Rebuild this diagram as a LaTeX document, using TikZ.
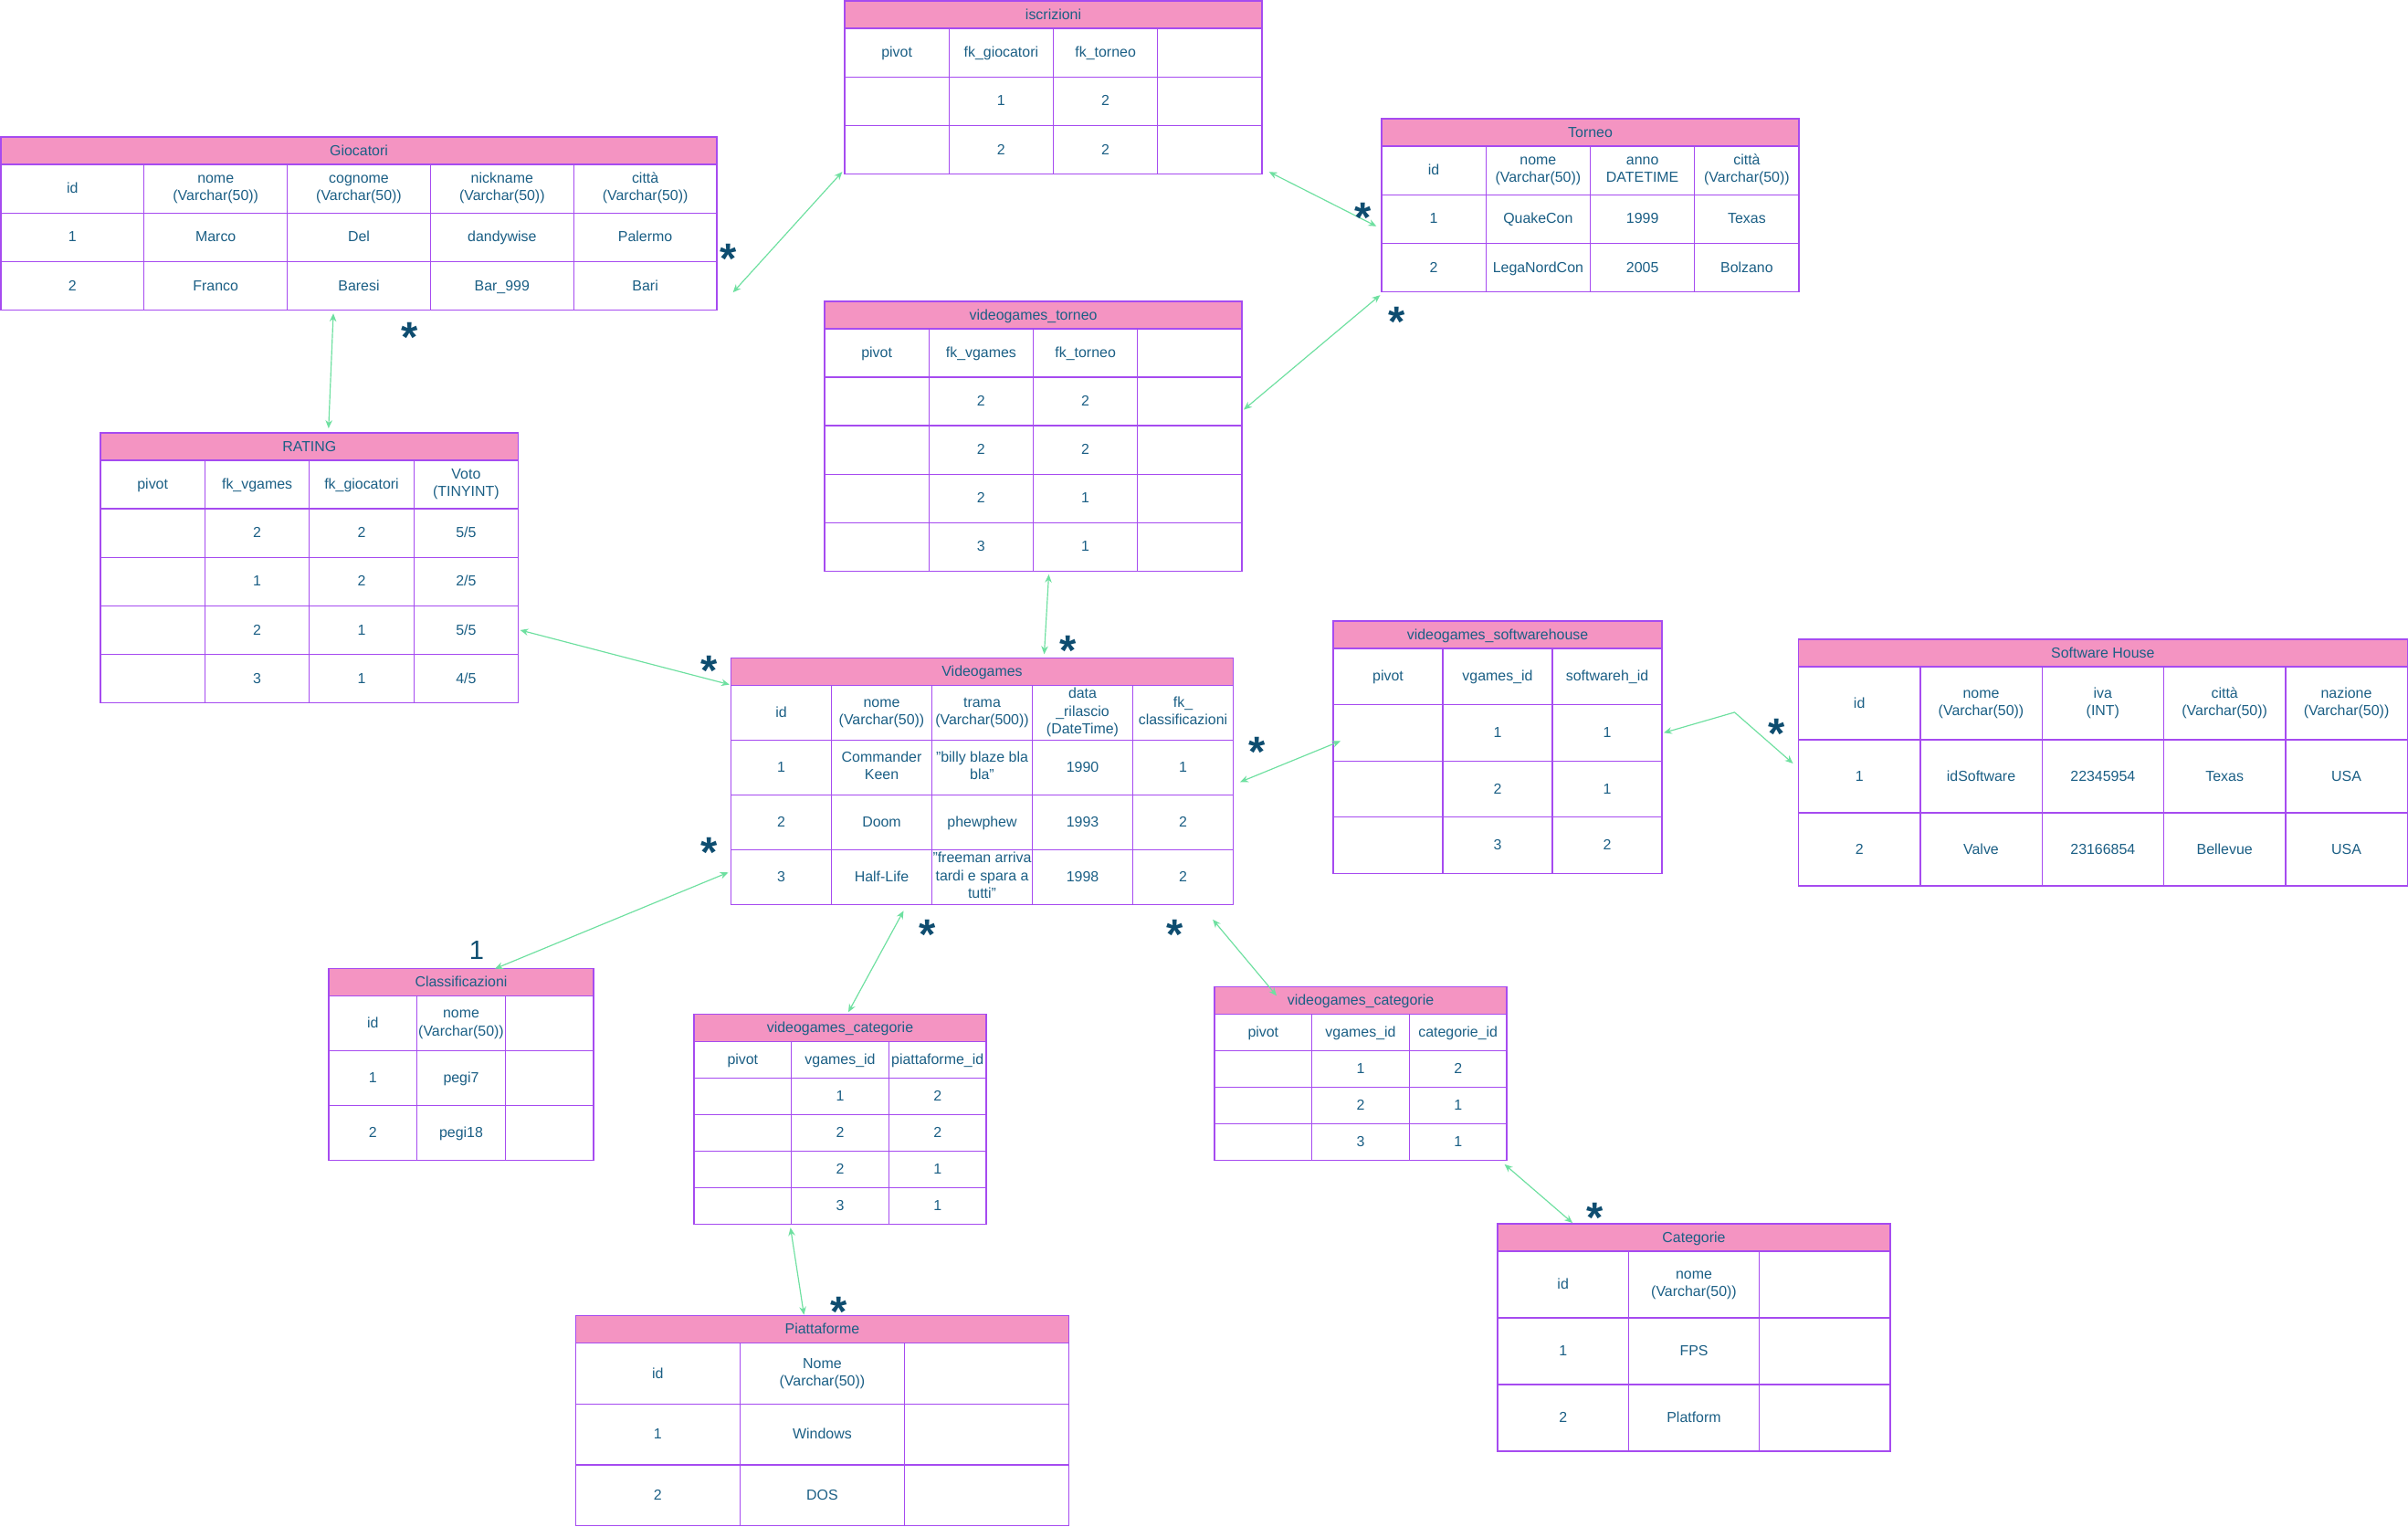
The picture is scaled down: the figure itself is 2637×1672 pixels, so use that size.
\documentclass[tikz,border=0pt]{standalone}
\usepackage{fontspec}
\setmainfont{Liberation Sans}
\usetikzlibrary{matrix,positioning,arrows.meta}

\definecolor{rosa}{HTML}{F494C2}
\definecolor{edge}{HTML}{A64BF0}
\definecolor{mint}{HTML}{6EE0A0}
\definecolor{ink}{HTML}{1B5F85}
\definecolor{star}{HTML}{0E4D70}

\newcommand{\twol}[2]{\begin{tabular}{@{}c@{}}#1\\#2\end{tabular}}
\newcommand{\threel}[3]{\begin{tabular}{@{}c@{}}#1\\#2\\#3\end{tabular}}
\newcommand{\cellstrut}{\rule[-1.6pt]{0pt}{7.6pt}}

\tikzset{
  cell/.style={draw=edge, line width=0.55pt, inner xsep=0pt, inner ysep=0.5pt, outer sep=0pt, text=ink,
    execute at begin node=\cellstrut},
  head/.style={cell, fill=rosa, minimum height=0.45cm, anchor=north west},
  tab/.style 2 args={matrix of nodes, nodes in empty cells, inner sep=0pt, outer sep=0pt,
    column sep=-0.55pt, row sep=-0.55pt, nodes={cell, anchor=center, minimum width=#1, minimum height=#2}},
  link/.style={draw=mint, line width=0.5pt, <->, >={Stealth[length=3.8pt,width=3.2pt]}},
  many/.style={text=star, font=\fontsize{20}{20}\selectfont\bfseries, inner sep=0pt, anchor=base, yshift=-11.6pt},
  one/.style={text=star, font=\fontsize{12.4}{12.4}\selectfont, inner sep=0pt, anchor=base, yshift=-4.5pt}
}

\begin{document}
\begin{tikzpicture}[x=0.015cm, y=-0.015cm, font=\fontsize{6.8}{8.2}\selectfont]
\fill[white] (0,0) rectangle (2637,1672);
\useasboundingbox (0,0) rectangle (2637,1672);

% Giocatori
\node[head, minimum width=11.76cm] (giocH) at (1,150) {Giocatori};
\matrix (gioc) [tab={2.352cm}{0.798cm}, below=-0.3pt of giocH] {
  id & \twol{nome}{(Varchar(50))} & \twol{cognome}{(Varchar(50))} & \twol{nickname}{(Varchar(50))} & \twol{città}{(Varchar(50))} \\
  1 & Marco & Del & dandywise & Palermo \\
  2 & Franco & Baresi & Bar\_999 & Bari \\
};

% iscrizioni
\node[head, minimum width=6.855cm] (iscrH) at (925,1) {iscrizioni};
\matrix (iscr) [tab={1.714cm}{0.798cm}, below=-0.3pt of iscrH] {
  pivot & fk\_giocatori & fk\_torneo & \\
  & 1 & 2 & \\
  & 2 & 2 & \\
};

% Torneo
\node[head, minimum width=6.855cm] (tornH) at (1513,130) {Torneo};
\matrix (torn) [tab={1.714cm}{0.798cm}, below=-0.3pt of tornH] {
  id & \twol{nome}{(Varchar(50))} & \twol{anno}{DATETIME} & \twol{città}{(Varchar(50))} \\
  1 & QuakeCon & 1999 & Texas \\
  2 & LegaNordCon & 2005 & Bolzano \\
};

% RATING
\node[head, minimum width=6.864cm] (ratiH) at (110,474) {RATING};
\matrix (rati) [tab={1.716cm}{0.797cm}, below=-0.3pt of ratiH] {
  pivot & fk\_vgames & fk\_giocatori & \twol{Voto}{(TINYINT)} \\
  & 2 & 2 & 5/5 \\
  & 1 & 2 & 2/5 \\
  & 2 & 1 & 5/5 \\
  & 3 & 1 & 4/5 \\
};

% videogames_torneo
\node[head, minimum width=6.855cm] (vgtoH) at (903,330) {videogames\_torneo};
\matrix (vgto) [tab={1.714cm}{0.796cm}, below=-0.3pt of vgtoH] {
  pivot & fk\_vgames & fk\_torneo & \\
  & 2 & 2 & \\
  & 2 & 2 & \\
  & 2 & 1 & \\
  & 3 & 1 & \\
};

% Videogames
\node[head, minimum width=8.25cm] (vgamH) at (800.5,720.3) {Videogames};
\matrix (vgam) [tab={1.65cm}{0.9cm}, below=-0.3pt of vgamH] {
  id & \twol{nome}{(Varchar(50))} & \twol{trama}{(Varchar(500))} & \threel{data}{\_rilascio}{(DateTime)} & \twol{fk\_}{classificazioni} \\
  1 & \twol{Commander}{Keen} & \twol{"billy blaze bla}{bla"} & 1990 & 1 \\
  2 & Doom & phewphew & 1993 & 2 \\
  3 & Half-Life & \threel{"freeman arriva}{tardi e spara a}{tutti"} & 1998 & 2 \\
};

% videogames_softwarehouse
\node[head, minimum width=5.4cm] (vgshH) at (1460,680) {videogames\_softwarehouse};
\matrix (vgsh) [tab={1.8cm}{0.924cm}, below=-0.3pt of vgshH] {
  pivot & vgames\_id & softwareh\_id \\
  & 1 & 1 \\
  & 2 & 1 \\
  & 3 & 2 \\
};

% Software House
\node[head, minimum width=10cm] (softH) at (1969.5,700) {Software House};
\matrix (soft) [tab={2cm}{1.2cm}, below=-0.3pt of softH] {
  id & \twol{nome}{(Varchar(50))} & \twol{iva}{(INT)} & \twol{città}{(Varchar(50))} & \twol{nazione}{(Varchar(50))} \\
  1 & idSoftware & 22345954 & Texas & USA \\
  2 & Valve & 23166854 & Bellevue & USA \\
};

% Classificazioni
\node[head, minimum width=4.35cm] (clasH) at (360,1060.7) {Classificazioni};
\matrix (clas) [tab={1.45cm}{0.9cm}, below=-0.3pt of clasH] {
  id & \twol{nome}{(Varchar(50))} & \\
  1 & pegi7 & \\
  2 & pegi18 & \\
};

% videogames_categorie (piattaforme)
\node[head, minimum width=4.8cm] (vgpiH) at (760,1110.3) {videogames\_categorie};
\matrix (vgpi) [tab={1.6cm}{0.6cm}, below=-0.3pt of vgpiH] {
  pivot & vgames\_id & piattaforme\_id \\
  & 1 & 2 \\
  & 2 & 2 \\
  & 2 & 1 \\
  & 3 & 1 \\
};

% videogames_categorie (categorie)
\node[head, minimum width=4.8cm] (vgcaH) at (1330,1080.3) {videogames\_categorie};
\matrix (vgca) [tab={1.6cm}{0.6cm}, below=-0.3pt of vgcaH] {
  pivot & vgames\_id & categorie\_id \\
  & 1 & 2 \\
  & 2 & 1 \\
  & 3 & 1 \\
};

% Piattaforme
\node[head, minimum width=8.1cm] (piatH) at (630.4,1440.7) {Piattaforme};
\matrix (piat) [tab={2.7cm}{1cm}, below=-0.3pt of piatH] {
  id & \twol{Nome}{(Varchar(50))} & \\
  1 & Windows & \\
  2 & DOS & \\
};

% Categorie
\node[head, minimum width=6.45cm] (cateH) at (1640,1340) {Categorie};
\matrix (cate) [tab={2.15cm}{1.095cm}, below=-0.3pt of cateH] {
  id & \twol{nome}{(Varchar(50))} & \\
  1 & FPS & \\
  2 & Platform & \\
};

% relations
\draw[link] ([shift={(17,-20)}]gioc.south east) -- ([shift={(-2,-3)}]iscr.south west);
\draw[link] ([shift={(-28,3)}]gioc.south) -- ([shift={(21,-5)}]ratiH.north);
\draw[link] ([shift={(7,-3)}]iscr.south east) -- ([shift={(-5,8)}]torn.west);
\draw[link] ([shift={(2,9)}]vgto-2-4.east) -- ([shift={(-1,3)}]torn.south west);
\draw[link] ([shift={(17,3)}]vgto.south) -- ([shift={(68,-4)}]vgamH.north);
\draw[link] ([shift={(2,0)}]rati-4-4.east) -- ([shift={(-1,0)}]vgam.north west);
\draw[link] ([shift={(-3,-5)}]vgam-4-1.west) -- ([shift={(37,0)}]clasH.north);
\draw[link] ([shift={(24,7)}]vgam-4-2.south) -- ([shift={(9,-2)}]vgpiH.north);
\draw[link] ([shift={(-23,16)}]vgam.south east) -- ([shift={(68,10)}]vgcaH.north west);
\draw[link] ([shift={(7,-14)}]vgam.east) -- ([shift={(8,9)}]vgsh-2-1.west);
\coordinate (shbend) at ([shift={(-70,-70)}]soft-2-1.west);
\draw[link] ([shift={(2,0)}]vgsh-2-3.east) -- (shbend) -- ([shift={(-6,-14)}]soft-2-1.west);
\draw[link] ([shift={(-3,4)}]vgca.south east) -- ([shift={(82,-1)}]cateH.north west);
\draw[link] ([shift={(-1,4)}]vgpi-5-2.south west) -- ([shift={(-20,-1)}]piatH.north);

% cardinalities
\foreach \p/\n in {{798,272}/s1, {449,358}/s2, {1493,227}/s3, {1530,341}/s4,
  {1170,701}/s5, {777,723}/s6, {777,922}/s7, {1016,1012}/s8, {1287,1012}/s9,
  {1377,812}/s10, {1946,792}/s11, {1747,1322}/s12, {919,1425}/s13}
  \node[many] (\n) at (\p) {*};
\node[one] (o1) at (522,1040) {1};
\end{tikzpicture}
\end{document}
